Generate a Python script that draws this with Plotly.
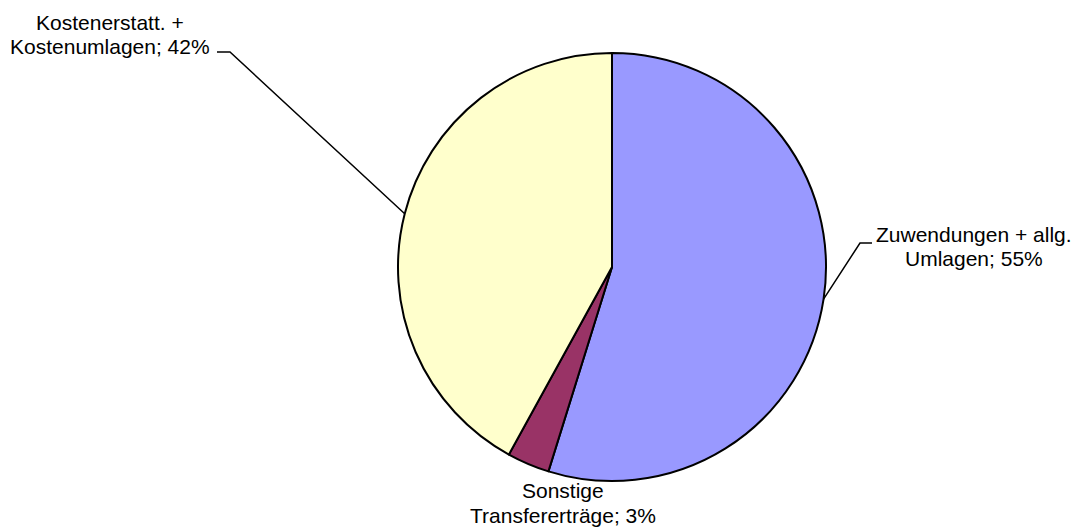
import math
import plotly.graph_objects as go

# ---- data ----
categories = ["Zuwendungen + allg. Umlagen", "Sonstige Transfererträge", "Kostenerstatt. + Kostenumlagen"]
label_lines = [["Zuwendungen + allg.", "Umlagen"], ["Sonstige", "Transfererträge"], ["Kostenerstatt. +", "Kostenumlagen"]]
values = [54.8, 3.2, 42.0]
colors = ["#9999FF", "#993366", "#FFFFCC"]

W, H = 1075, 527
# pie placement in pixels
pie_left, pie_right, pie_top, pie_bottom = 398, 826, 53, 481
cx = (pie_left + pie_right) / 2
cy = (pie_top + pie_bottom) / 2
r = (pie_right - pie_left) / 2

def px(x):
    return x / W

def py(y):
    return 1 - y / H

fig = go.Figure(go.Pie(
    labels=categories,
    values=values,
    sort=False,
    direction="clockwise",
    rotation=0,
    marker=dict(colors=colors, line=dict(color="#000000", width=2)),
    textinfo="none",
    hoverinfo="label+percent",
    showlegend=False,
    domain=dict(x=[px(pie_left), px(pie_right)], y=[py(pie_bottom), py(pie_top)]),
))

# label layout: (center x, first line y), line gap; elbow points for leaders
label_pos = [(974, 234), (563, 490.5), (110, 22)]
line_gap = 24.5
elbows = [[(860, 243), (872, 243)], None, [(230, 52), (217, 52)]]

total = sum(values)
cum = 0
annotations = []
shapes = []
font = dict(family="Liberation Sans, Arial, sans-serif", size=21, color="#000000")
for i, v in enumerate(values):
    mid = (cum + v / 2) / total * 2 * math.pi
    cum += v
    ex = cx + r * math.sin(mid)
    ey = cy - r * math.cos(mid)
    pct = round(v / total * 100)
    lx, ly = label_pos[i]
    lines = label_lines[i][:-1] + [f"{label_lines[i][-1]}; {pct}%"]
    for k, t in enumerate(lines):
        annotations.append(dict(
            x=px(lx), y=py(ly + k * line_gap), xref="paper", yref="paper",
            text=t, showarrow=False,
            xanchor="center", yanchor="middle", align="center", font=font,
        ))
    if elbows[i]:
        pts = [(ex, ey)] + elbows[i]
        path = "M " + " L ".join(f"{px(a):.5f},{py(b):.5f}" for a, b in pts)
        shapes.append(dict(type="path", path=path, xref="paper", yref="paper",
                           line=dict(color="#000000", width=1.5)))

fig.update_layout(
    width=W, height=H,
    margin=dict(l=0, r=0, t=0, b=0),
    paper_bgcolor="#FFFFFF",
    plot_bgcolor="#FFFFFF",
    annotations=annotations,
    shapes=shapes,
)

fig.write_html("out.html", config={"displayModeBar": False},
               post_script="document.body.style.margin='0';")
